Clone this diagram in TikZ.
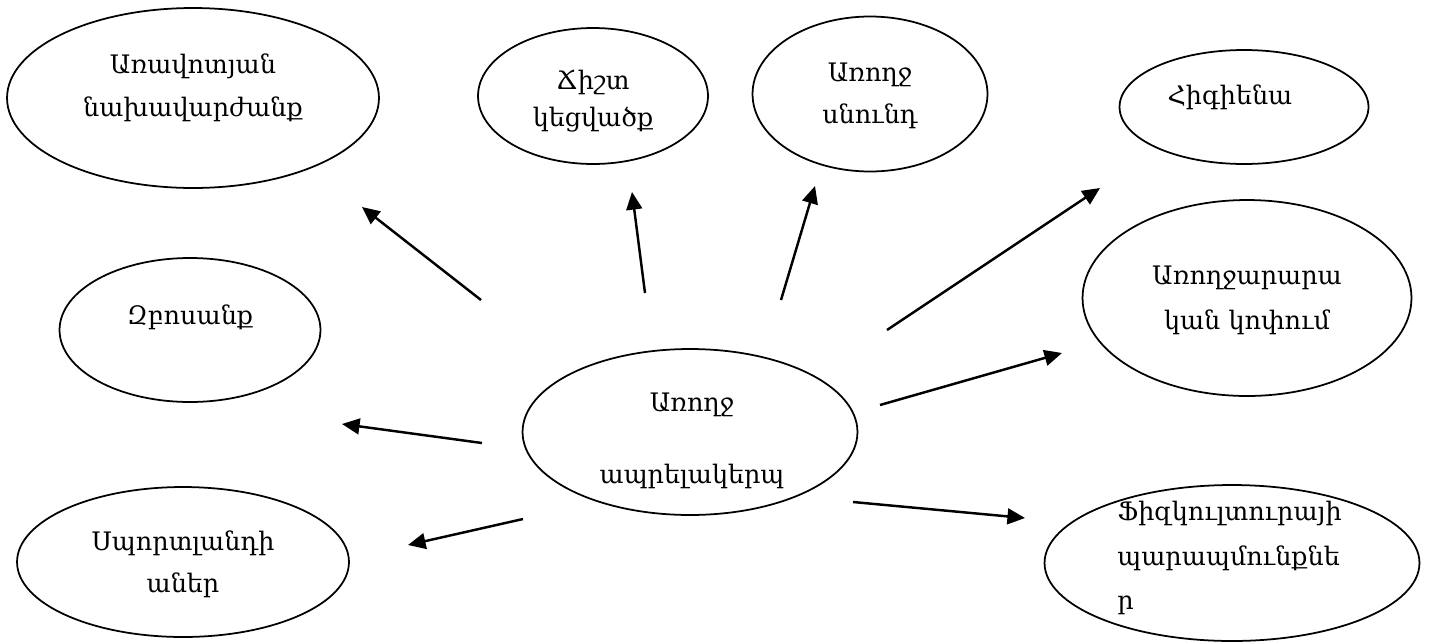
\documentclass[tikz,border=0pt]{standalone}
\usepackage{fontspec}
\setmainfont{DejaVu Serif}
\usetikzlibrary{shapes.geometric,arrows.meta}
\tikzset{
  oval/.style={draw, ellipse, line width=1pt, inner sep=0pt},
  lbl/.style={align=center, inner sep=0pt},
  arr/.style={line width=1.4pt, -{Triangle[length=10pt,width=9pt]}}
}
\newcommand{\fs}[1]{\fontsize{14.5pt}{#1pt}\selectfont}
\begin{document}
\begin{tikzpicture}[x=0.02cm,y=-0.02cm]
\useasboundingbox (0,0) rectangle (1429,643);
% ellipses
\node[oval, minimum width=7.44cm, minimum height=3.6cm] (e1) at (193,98) {};
\node[oval, minimum width=4.6cm, minimum height=2.72cm] (e2) at (593,96) {};
\node[oval, minimum width=4.7cm, minimum height=3.1cm] (e3) at (870,94) {};
\node[oval, minimum width=4.98cm, minimum height=2.28cm] (e4) at (1244,107) {};
\node[oval, minimum width=6.58cm, minimum height=3.92cm] (e5) at (1247,298) {};
\node[oval, minimum width=5.22cm, minimum height=2.88cm] (e6) at (190,330) {};
\node[oval, minimum width=6.7cm, minimum height=3.32cm] (e7) at (690,432) {};
\node[oval, minimum width=6.64cm, minimum height=3.0cm] (e8) at (183,562) {};
\node[oval, minimum width=7.5cm, minimum height=3.12cm] (e9) at (1232,563) {};
% texts
\node[lbl, font=\fs{24.4}] (t1) at (193,88) {Առավոտյան\\նախավարժանք};
\node[lbl, font=\fs{21.5}] (t2) at (593,101) {Ճիշտ\\կեցվածք};
\node[lbl, font=\fs{23.8}] (t3) at (870,96) {Առողջ\\սնունդ};
\node[lbl, font=\fs{24}] (t4) at (1230,97) {Հիգիենա};
\node[lbl, font=\fs{25.5}] (t5) at (1247,300) {Առողջարարա\\կան կոփում};
\node[lbl, font=\fs{24}] (t6) at (190,317) {Զբոսանք};
\node[lbl, font=\fs{40.8}] (t7) at (692,441) {Առողջ\\ապրելակերպ};
\node[lbl, font=\fs{23.8}] (t8) at (183,564) {Սպորտլանդի\\աներ};
\node[lbl, align=left, anchor=west, font=\fs{25.5}] (t9) at (1117,558) {Ֆիզկուլտուրայի\\պարապմունքնե\\ր};
% arrow end points
\coordinate (a1s) at (481,300); \coordinate (a1e) at (362,207);
\coordinate (a2s) at (645,293); \coordinate (a2e) at (632,192);
\coordinate (a3s) at (781,300); \coordinate (a3e) at (815,186);
\coordinate (a4s) at (887,330); \coordinate (a4e) at (1100,188);
\coordinate (a5s) at (880,405); \coordinate (a5e) at (1062,353);
\coordinate (a6s) at (482,443); \coordinate (a6e) at (342,424);
\coordinate (a7s) at (523,519); \coordinate (a7e) at (408,545);
\coordinate (a8s) at (853,502); \coordinate (a8e) at (1025,518);
\foreach \i in {1,...,8} { \draw[arr] (a\i s) -- (a\i e); }
\end{tikzpicture}
\end{document}
